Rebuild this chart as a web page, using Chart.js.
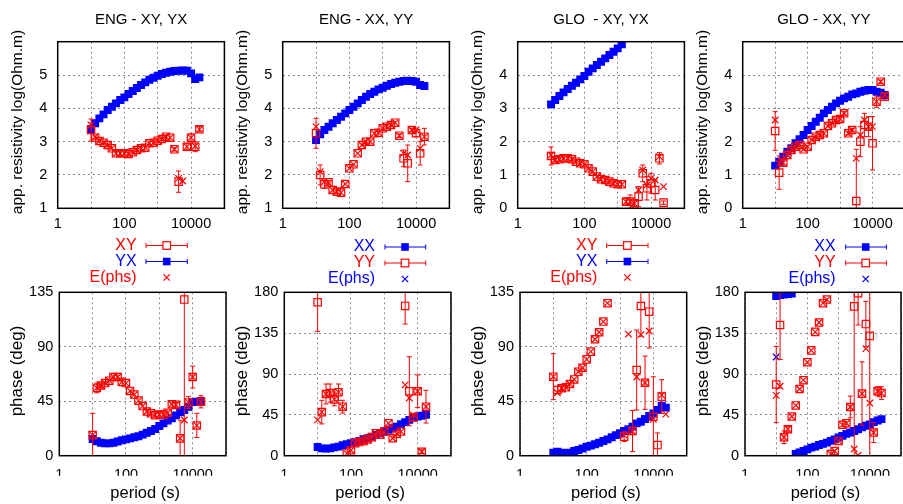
<!DOCTYPE html>
<html>
<head>
<meta charset="utf-8">
<title>ENG / GLO apparent resistivity and phase</title>
<script src="https://cdn.jsdelivr.net/npm/chart.js@4.4.1/dist/chart.umd.min.js"></script>
<style>
  html, body { margin: 0; padding: 0; background: #fff; width: 903px; height: 504px; overflow: hidden; }
  canvas { position: absolute; left: 0; top: 0; }
</style>
</head>
<body>
<script>
// Periods (s) shared by every series
const periods = [10, 13.3, 17.8, 23.7, 31.6, 42.2, 56.2, 75, 100, 133, 178, 237, 316, 422,
                 562, 750, 1000, 1330, 1780, 2370, 3160, 4220, 5620, 7500, 10000, 13300, 17800, 23700];

const periodTicks = [1, 10, 100, 1000, 10000, 100000];
const periodLabels = [1, 100, 10000];

// ENG - apparent resistivity, log10(Ohm.m)
const engYXRho    = [3.38,3.55,3.7,3.82,3.95,4.05,4.15,4.25,4.33,4.43,4.52,4.61,4.7,4.78,4.86,4.92,4.98,5.03,5.07,5.1,5.12,5.13,5.14,5.13,5.05,4.88,4.93,null];
const engXYRho    = [3.35,3.12,3.02,2.97,2.9,2.8,2.65,2.65,2.65,2.63,2.68,2.75,2.8,2.82,2.95,2.97,3.03,3.08,3.15,3.12,2.77,1.8,null,2.85,3.12,2.85,3.37,null];
const engXYRhoErr = [0.33,0.05,0,0,0,0,0,0,0,0,0,0,0,0,0,0,0,0,0,0,0.05,0.32,null,0.1,0.12,0.15,0.08,null];
const engXYRhoEst = [3.5,3.15,3.02,2.97,2.9,2.8,2.65,2.65,2.65,2.63,2.68,2.75,2.8,2.82,2.95,2.97,3.03,3.08,3.15,3.12,2.77,1.9,1.82,2.85,3.12,2.87,3.37,null];

const engXXRho    = [3.05,3.22,3.35,3.45,3.55,3.65,3.75,3.85,3.95,4.05,4.15,4.25,4.35,4.43,4.5,4.57,4.62,4.68,4.73,4.77,4.8,4.82,4.83,4.82,4.8,4.7,4.67,null];
const engYYRho    = [3.25,2.0,1.72,1.78,1.55,1.5,1.47,1.73,2.2,2.32,2.65,2.9,3.0,3.0,3.25,3.27,3.4,3.45,3.5,3.57,3.18,2.5,2.35,3.35,3.25,2.65,3.15,null];
const engYYRhoErr = [0.45,0.3,0.12,0.05,0,0,0,0,0,0,0,0,0,0,0,0,0,0,0,0,0.05,0.25,0.55,0.05,0.1,0.35,0.25,null];
const engYYRhoEst = [3.45,2.1,1.8,1.75,1.55,1.5,1.47,1.73,2.2,2.32,2.65,2.9,3.0,3.0,3.25,3.27,3.4,3.45,3.5,3.57,3.18,2.65,2.6,3.35,3.35,2.8,3.15,null];

// GLO - apparent resistivity, log10(Ohm.m)
const gloYXRho    = [3.12,3.25,3.37,3.48,3.58,3.68,3.77,3.87,3.97,4.1,4.2,4.3,4.4,4.5,4.6,4.7,4.8,4.92,null,null,null,null,null,null,null,null,null,null];
const gloXYRho    = [1.57,1.45,1.47,1.5,1.5,1.47,1.4,1.35,1.32,1.2,1.1,0.95,0.87,0.85,0.8,0.75,0.72,0.72,0.2,0.2,0.15,0.35,1.05,0.6,0.75,0.55,1.5,0.17];
const gloXYRhoErr = [0.27,0.05,0,0,0,0,0,0,0,0,0,0,0,0,0,0,0,0,0.1,0.2,0.1,0.3,0.25,0.35,0.3,0.3,0.17,0.05];
const gloXYRhoEst = [1.6,1.45,1.47,1.5,1.5,1.47,1.4,1.35,1.32,1.2,1.1,0.95,0.87,0.85,0.8,0.75,0.72,0.72,0.2,0.2,0.15,0.55,1.15,0.7,0.9,0.85,1.55,0.65];

const gloXXRho    = [1.28,1.4,1.55,1.7,1.8,1.95,2.07,2.2,2.35,2.47,2.6,2.72,2.85,2.95,3.05,3.15,3.23,3.3,3.35,3.42,3.45,3.5,3.53,3.55,3.55,3.5,3.47,3.4];
const gloYYRho    = [2.32,1.07,1.37,1.6,1.75,1.85,1.9,1.77,1.85,2.05,2.15,2.2,2.25,2.47,2.55,2.65,2.68,2.85,2.25,2.35,0.22,2.0,2.5,2.45,1.95,3.2,3.8,3.35];
const gloYYRhoErr = [0.58,0.5,0.1,0.05,0,0,0,0,0,0,0,0,0,0,0,0,0,0.05,0.05,0.05,1.55,0.45,0.35,0.3,0.8,0.17,0.05,0.1];
const gloYYRhoEst = [2.65,1.35,1.37,1.6,1.75,1.85,1.9,1.77,1.85,2.05,2.15,2.2,2.25,2.47,2.55,2.65,2.68,2.85,2.25,2.35,1.5,2.2,2.65,2.45,2.45,3.2,3.8,3.4];

// ENG - phase (deg)
const engYXPhs    = [13.8,12,10.7,10.2,10.2,10.7,11.8,12.7,13.5,14.3,15.2,16,17.4,19,20.4,22,24.5,26.7,29,30.9,33.3,35.8,37.7,40.5,44.4,44.6,45.2,null];
const engXYPhs    = [17,56,58,60,62,65,65,61,60,53.5,50.5,45.5,41,36.5,35,33.5,34,34,35.5,42.5,42,14.3,129,44,65,25,44.5,null];
const engXYPhsErr = [18,4,2,0,0,0,0,0,0,0,0,0,0,0,0,0,0,0,0,0,2,15,130,5,9,10,5,null];
const engXYPhsEst = [17,56,58,60,62,65,65,61,60,53.5,50.5,45.5,41,36.5,35,33.5,34,34,35.5,42.5,42,14.3,29.5,44,65,25,44,null];

const engXXPhs    = [9.6,8.1,7.8,8.1,9.2,10,11.5,12.6,13.7,14.8,16.3,18.1,19.2,21,23,24.8,26.6,28.5,30.3,32,34.7,37,39.5,42,43.2,44,45,null];
const engYYPhs    = [169,48,68,69,62,70,54,2.5,6,13.7,15,16.3,18,20.3,24.8,23,26.6,35.8,19.2,24,26.6,165,71,42,71,4.4,54,null];
const engYYPhsErr = [32,13,11,10,7,9,7,0,0,0,0,0,0,0,0,0,0,0,0,0,0,20,38,3,18,2,18,null];
const engYYPhsEst = [39.5,48,68,69,62,70,54,2.5,6,13.7,15,16.3,18,20.3,24.8,23,26.6,35.8,19.2,24,26.6,78,63.6,45,71,4.4,54,null];

// GLO - phase (deg)
const gloYXPhs    = [2.5,3.3,2.5,1.9,2.5,3.9,4.7,6,7.4,8.3,9.4,10.7,12.1,13.5,15.2,17,18.5,20.4,21.8,24,26.7,28,30.3,32.8,35,37.7,41.3,39.7];
const gloXYPhs    = [65.3,54.3,55.7,56.5,59.2,63,69.4,72.7,79.6,86,96.2,102,110.8,126,null,null,null,15.7,null,20.4,70.8,123.7,60.3,119,32.2,8.8,48.8,null];
const gloXYPhsErr = [19,3,2,0,0,0,0,0,0,0,0,0,0,0,null,null,null,4,null,17,33,25,22,30,33,10,14,null];
const gloXYPhsEst = [65.3,52,55.7,56.5,59.2,63,69.4,72.7,79.6,86,96.2,102,110.8,126,null,null,null,17,100.5,20,65,100,60.3,103,30,null,50,34.4];

const gloXXPhs    = [176,177,177.5,178,178.5,1.8,3.7,5.2,7,8.9,10,11.8,13,14.4,16.3,18,20,21.8,24,25.5,27.3,29.2,31.4,33,34.4,37,38.8,40.3];
const gloXXPhsEst = [108.7,null,null,null,null,null,null,null,null,null,null,null,null,null,null,null,null,null,null,null,null,null,null,null,null,null,null,null];
const gloYYPhs    = [78.4,144,20.3,29.2,43.2,55.4,73.5,83.2,103,116,136.4,146.7,168,172,1.8,5.2,16.3,34,35.8,53.6,164.5,179,68.4,145,132,25.5,71,69];
const gloYYPhsErr = [42,38,7,3,0,0,0,0,0,0,0,0,0,0,0,0,0,0,0,12,165,35,35,25,132,11,5,7];
const gloYYPhsEst = [66.5,76.5,20.3,29.2,43.2,55.4,73.5,83.2,103,116,136.4,146.7,168,172,1.8,5.2,16.3,34,35.8,53.6,7.4,0.5,68.4,118,58,25.5,71,69];

const FONT = '"Liberation Sans", Arial, Helvetica, sans-serif';
const RED = '#ff0000';
const BLUE = '#0000ff';
const CW = 912, CH = 504;
const PLOT_W = 166.7;

function points(vals) {
  return periods.map((p, i) => ({ x: p, y: vals[i] == null ? null : vals[i] }));
}
function openSquares(vals, err, color) {
  return { data: points(vals), err, pointStyle: 'rect', pointRadius: 5.2, pointHoverRadius: 5.2,
           borderColor: color, pointBorderColor: color, backgroundColor: 'rgba(0,0,0,0)',
           pointBackgroundColor: 'rgba(0,0,0,0)', pointBorderWidth: 1.2, showLine: false };
}
function filledSquares(vals, color) {
  return { data: points(vals), pointStyle: 'rect', pointRadius: 5.6, pointHoverRadius: 5.6,
           borderColor: color, pointBorderColor: color, backgroundColor: color,
           pointBackgroundColor: color, pointBorderWidth: 0, showLine: false };
}
function crosses(vals, color) {
  return { data: points(vals), pointStyle: 'crossRot', pointRadius: 4.6, pointHoverRadius: 4.6,
           borderColor: color, pointBorderColor: color, backgroundColor: color,
           pointBorderWidth: 1.2, showLine: false };
}

// vertical error bars with short caps, drawn just before their own markers
const errorBars = {
  id: 'errorBars',
  beforeDatasetDraw(chart, args) {
    const ds = chart.data.datasets[args.index];
    if (!ds.err) return;
    const { ctx, chartArea: a, scales: { x, y } } = chart;
    ctx.save();
    ctx.beginPath();
    ctx.rect(a.left, a.top, a.right - a.left, a.bottom - a.top);
    ctx.clip();
    ctx.strokeStyle = ds.borderColor;
    ctx.lineWidth = 1;
    ds.data.forEach((p, i) => {
      const e = ds.err[i];
      if (p.y == null || !e) return;
      const px = x.getPixelForValue(p.x);
      const y1 = y.getPixelForValue(p.y - e);
      const y2 = y.getPixelForValue(p.y + e);
      ctx.beginPath();
      ctx.moveTo(px, y1); ctx.lineTo(px, y2);
      ctx.moveTo(px - 2.5, y1); ctx.lineTo(px + 2.5, y1);
      ctx.moveTo(px - 2.5, y2); ctx.lineTo(px + 2.5, y2);
      ctx.stroke();
    });
    ctx.restore();
  }
};

function drawMark(ctx, kind, x, y, color) {
  ctx.strokeStyle = color;
  ctx.fillStyle = color;
  ctx.lineWidth = 1.2;
  const h = 3.8;
  if (kind === 'open') {
    ctx.fillStyle = '#fff';
    ctx.fillRect(x - h, y - h, 2 * h, 2 * h);
    ctx.strokeRect(x - h, y - h, 2 * h, 2 * h);
  } else if (kind === 'filled') {
    ctx.fillRect(x - h, y - h, 2 * h, 2 * h);
  } else {
    const c = 3.2;
    ctx.beginPath();
    ctx.moveTo(x - c, y - c); ctx.lineTo(x + c, y + c);
    ctx.moveTo(x + c, y - c); ctx.lineTo(x - c, y + c);
    ctx.stroke();
  }
}

// frame, panel title, axis titles and key
const panelText = {
  id: 'panelText',
  afterDraw(chart, args, o) {
    const { ctx, chartArea: a } = chart;
    const cx = (a.left + a.right) / 2, cy = (a.top + a.bottom) / 2;
    ctx.save();
    ctx.strokeStyle = '#000';
    ctx.lineWidth = 1.5;
    ctx.strokeRect(a.left, a.top, a.right - a.left, a.bottom - a.top);

    ctx.fillStyle = '#000';
    ctx.textAlign = 'center';
    ctx.textBaseline = 'middle';
    if (o.title) {
      ctx.font = '15px ' + FONT;
      ctx.fillText(o.title, cx, 20);
    }
    if (o.xTitle) {
      ctx.font = o.xTitleSize + 'px ' + FONT;
      ctx.fillText(o.xTitle, cx + 2.5, 493);
    }
    ctx.save();
    ctx.translate(a.left - o.yTitleOff, cy + o.yTitleShift);
    ctx.rotate(-Math.PI / 2);
    ctx.font = o.yTitleSize + 'px ' + FONT;
    ctx.fillText(o.yTitle, 0, 0);
    ctx.restore();

    if (o.key) {
      const k = o.key;
      ctx.font = '16px ' + FONT;
      ctx.textAlign = 'right';
      k.rows.forEach(r => {
        ctx.fillStyle = r.color;
        ctx.fillText(r.label, a.left + k.text, r.y);
        if (r.line) {
          const x1 = a.left + k.l1, x2 = a.left + k.l2;
          ctx.strokeStyle = r.color;
          ctx.lineWidth = 1;
          ctx.beginPath();
          ctx.moveTo(x1, r.y); ctx.lineTo(x2, r.y);
          ctx.moveTo(x1, r.y - 2.5); ctx.lineTo(x1, r.y + 2.5);
          ctx.moveTo(x2, r.y - 2.5); ctx.lineTo(x2, r.y + 2.5);
          ctx.stroke();
        }
        drawMark(ctx, r.kind, a.left + k.mark, r.y, r.color);
      });
    }
    ctx.restore();
  }
};

const keyA = { text: 77.4, l1: 86.7, l2: 128, mark: 107.4 };
const keyB = { text: 90.7, l1: 100.7, l2: 141.4, mark: 120.7 };

const panels = [
  { left: 57.7, top: 41.7, bottom: 208.3, yMin: 1, yMax: 6, title: 'ENG - XY, YX',
    sets: [crosses(engXYRhoEst, RED), openSquares(engXYRho, engXYRhoErr, RED), filledSquares(engYXRho, BLUE)] },
  { left: 282.7, top: 41.7, bottom: 208.3, yMin: 1, yMax: 6, title: 'ENG - XX, YY',
    sets: [crosses(engYYRhoEst, RED), openSquares(engYYRho, engYYRhoErr, RED), filledSquares(engXXRho, BLUE)] },
  { left: 517.7, top: 41.7, bottom: 208.3, yMin: 0, yMax: 5, title: 'GLO  - XY, YX',
    sets: [crosses(gloXYRhoEst, RED), openSquares(gloXYRho, gloXYRhoErr, RED), filledSquares(gloYXRho, BLUE)] },
  { left: 742.7, top: 41.7, bottom: 208.3, yMin: 0, yMax: 5, title: 'GLO - XX, YY',
    sets: [crosses(gloYYRhoEst, RED), openSquares(gloYYRho, gloYYRhoErr, RED), filledSquares(gloXXRho, BLUE)] },

  { left: 59.3, top: 292.3, bottom: 455.7, yMin: 0, yMax: 135, phase: true,
    key: Object.assign({ rows: [
      { label: 'XY', color: RED, kind: 'open', line: true, y: 245.5 },
      { label: 'YX', color: BLUE, kind: 'filled', line: true, y: 261.5 },
      { label: 'E(phs)', color: RED, kind: 'cross', line: false, y: 277.5 } ] }, keyA),
    sets: [crosses(engXYPhsEst, RED), openSquares(engXYPhs, engXYPhsErr, RED), filledSquares(engYXPhs, BLUE)] },
  { left: 284.3, top: 292.3, bottom: 455.7, yMin: 0, yMax: 180, phase: true,
    key: Object.assign({ rows: [
      { label: 'XX', color: BLUE, kind: 'filled', line: true, y: 247 },
      { label: 'YY', color: RED, kind: 'open', line: true, y: 263 },
      { label: 'E(phs)', color: BLUE, kind: 'cross', line: false, y: 279 } ] }, keyB),
    sets: [crosses(engYYPhsEst, RED), openSquares(engYYPhs, engYYPhsErr, RED), filledSquares(engXXPhs, BLUE)] },
  { left: 520, top: 292.3, bottom: 455.7, yMin: 0, yMax: 135, phase: true,
    key: Object.assign({ rows: [
      { label: 'XY', color: RED, kind: 'open', line: true, y: 245.5 },
      { label: 'YX', color: BLUE, kind: 'filled', line: true, y: 261.5 },
      { label: 'E(phs)', color: RED, kind: 'cross', line: false, y: 277.5 } ] }, keyA),
    sets: [crosses(gloXYPhsEst, RED), openSquares(gloXYPhs, gloXYPhsErr, RED), filledSquares(gloYXPhs, BLUE)] },
  { left: 745, top: 292.3, bottom: 455.7, yMin: 0, yMax: 180, phase: true,
    key: Object.assign({ rows: [
      { label: 'XX', color: BLUE, kind: 'filled', line: true, y: 247 },
      { label: 'YY', color: RED, kind: 'open', line: true, y: 263 },
      { label: 'E(phs)', color: BLUE, kind: 'cross', line: false, y: 279 } ] }, keyB),
    sets: [crosses(gloYYPhsEst, RED), openSquares(gloYYPhs, gloYYPhsErr, RED), crosses(gloXXPhsEst, BLUE), filledSquares(gloXXPhs, BLUE)] }
];

const tickFont = { family: FONT, size: 14.5 };
const gridOpts = { color: '#8c8c8c', lineWidth: 1, drawTicks: false };
const gridDash = { display: false, dash: [2, 3] };

panels.forEach(p => {
  const canvas = document.createElement('canvas');
  canvas.width = CW;
  canvas.height = CH;
  document.body.appendChild(canvas);
  const hideTop = !p.phase;
  new Chart(canvas, {
    type: 'scatter',
    data: { datasets: p.sets },
    options: {
      responsive: false,
      animation: false,
      events: [],
      layout: { padding: { left: p.left - 30, right: CW - p.left - PLOT_W, top: p.top, bottom: CH - p.bottom - 20 } },
      plugins: {
        legend: { display: false },
        tooltip: { enabled: false },
        panelText: {
          title: p.title,
          yTitle: p.phase ? 'phase (deg)' : 'app. resistivity log(Ohm.m)',
          yTitleSize: p.phase ? 17 : 15.5,
          yTitleOff: p.phase ? 42 : 40,
          yTitleShift: -3,
          xTitle: p.phase ? 'period (s)' : null,
          xTitleSize: 16.5,
          key: p.key
        }
      },
      scales: {
        x: {
          type: 'logarithmic', min: 1, max: 100000,
          afterBuildTicks: s => { s.ticks = periodTicks.map(v => ({ value: v })); },
          afterFit: s => { s.height = 20; },
          ticks: { autoSkip: false, maxRotation: 0, color: '#000', font: tickFont,
                   padding: p.phase ? 11 : 7,
                   callback: v => periodLabels.includes(v) ? String(v) : '' },
          grid: gridOpts,
          border: gridDash
        },
        y: {
          type: 'linear', min: p.yMin, max: p.yMax,
          afterFit: s => { s.width = 30; },
          ticks: { stepSize: p.phase ? 45 : 1, color: '#000', font: tickFont,
                   padding: p.phase ? 6 : 10.5,
                   callback: v => (hideTop && v === p.yMax) ? '' : String(v) },
          grid: gridOpts,
          border: gridDash
        }
      }
    },
    plugins: [errorBars, panelText]
  });
});
</script>
</body>
</html>
